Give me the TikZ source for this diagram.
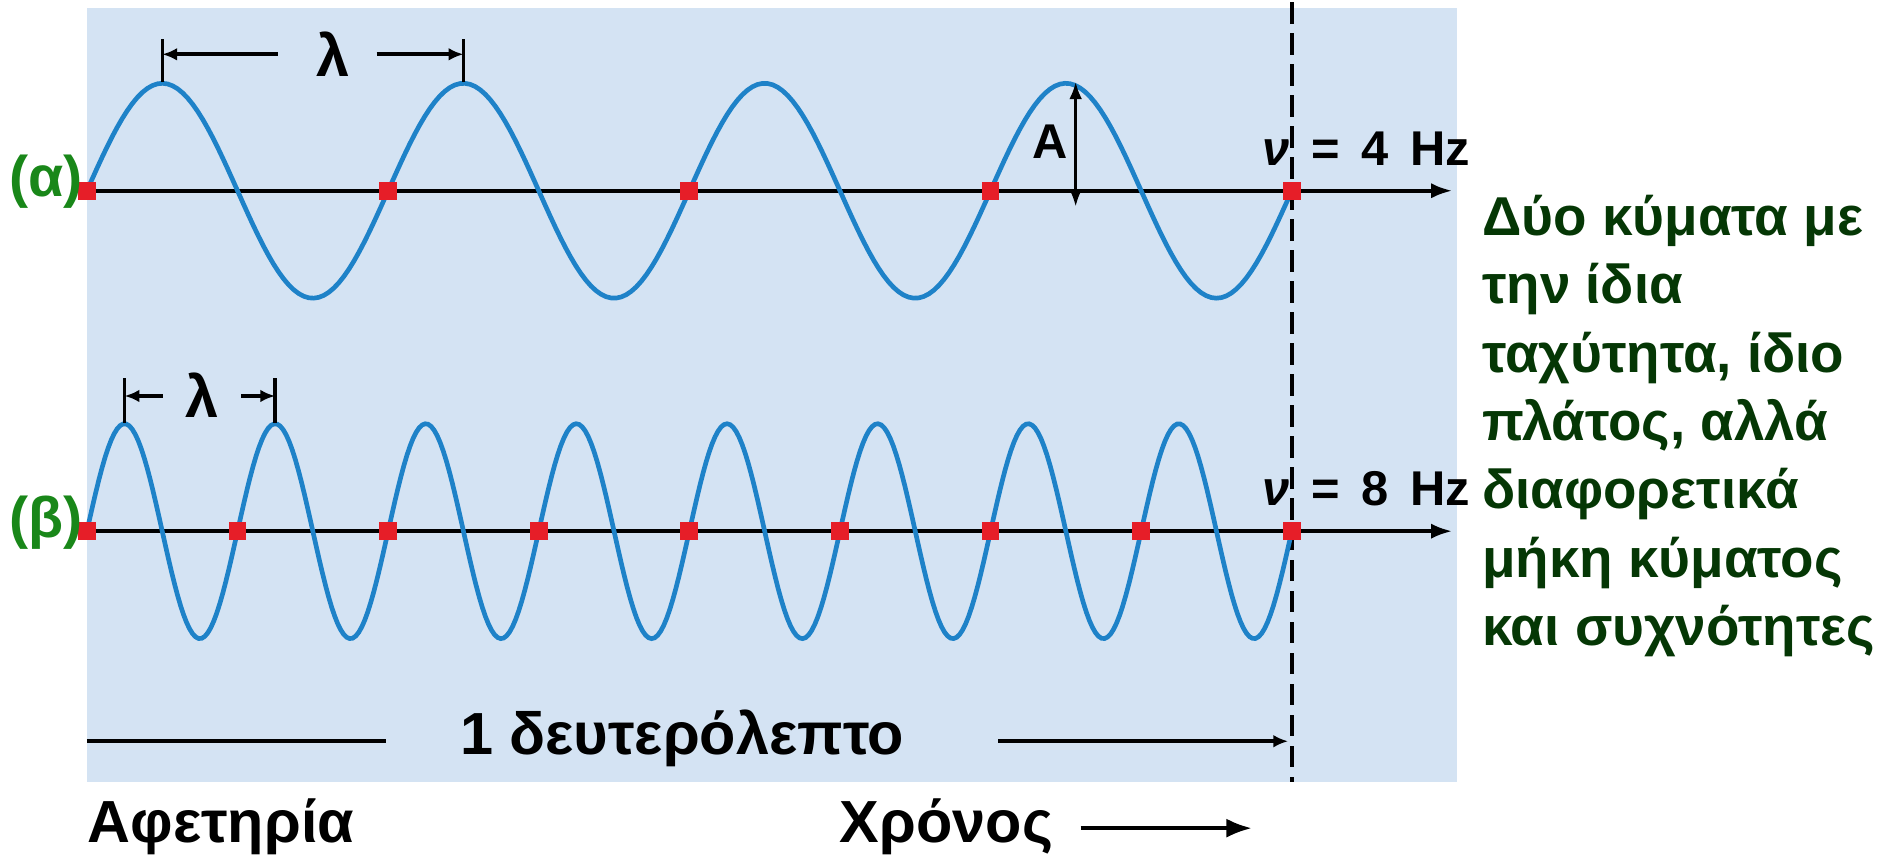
\documentclass[tikz,border=0pt]{standalone}
\usepackage{fontspec}
\setmainfont{Liberation Sans}
\usepackage{xcolor}
\usetikzlibrary{arrows.meta,positioning}

\definecolor{bgblue}{RGB}{212,227,243}
\definecolor{wavecol}{RGB}{30,130,200}
\definecolor{markred}{RGB}{230,30,40}
\definecolor{tagreen}{RGB}{25,135,25}
\definecolor{notegreen}{RGB}{5,55,5}

\begin{document}
\begin{tikzpicture}[
  x=0.01cm, y=-0.01cm,
  wave/.style={draw=wavecol, line width=1.1pt},
  axisline/.style={draw, line width=0.9pt, -{Latex[length=5pt,width=3.6pt]}},
  dimline/.style={draw, line width=0.9pt, -{Latex[length=3.5pt,width=3pt]}},
  tick/.style={draw, line width=0.8pt},
  marker/.style={fill=markred, minimum size=4.2pt, inner sep=0pt},
  lbl/.style={inner sep=0pt, font=\bfseries\fontsize{#1}{#1}\selectfont},
  >=Stealth
]
  \useasboundingbox (0,0) rectangle (1568,710);
  \fill[bgblue] (72,7) rectangle (1207,648);

  % one second
  \coordinate (top) at (1070,2);
  \coordinate (bot) at (1070,648);
  \draw[line width=0.9pt, dash pattern=on 5pt off 2.3pt] (top) -- (bot);

  % wave (a): 4 Hz
  \coordinate (a0) at (72,158);
  \coordinate (aend) at (1203,158);
  \draw[axisline] (a0) -- (aend);
  \draw[wave] plot[domain=72:1070, samples=240]
    (\x, {158-89*sin((\x-72)/249.5*360)});
  \foreach \i in {0,...,4}
    \node[marker] (sqa\i) at ({72+\i*249.5},158) {};

  % wave (b): 8 Hz
  \coordinate (b0) at (72,440);
  \coordinate (bend) at (1203,440);
  \draw[axisline] (b0) -- (bend);
  \draw[wave] plot[domain=72:1070, samples=400]
    (\x, {440-89*sin((\x-72)/124.75*360)});
  \foreach \i in {0,...,8}
    \node[marker] (sqb\i) at ({72+\i*124.75},440) {};

  % wavelength marks
  \coordinate (pa1) at (134.4,68);  \coordinate (ta1) at (134.4,32);
  \coordinate (pa2) at (383.9,68);  \coordinate (ta2) at (383.9,32);
  \draw[tick] (pa1) -- (ta1);
  \draw[tick] (pa2) -- (ta2);
  \node[lbl=14] (lama) at (276,45) {λ};
  \coordinate (la1) at (230,45);  \coordinate (la2) at (312,45);
  \draw[dimline] (la1) -- (134.4,45);
  \draw[dimline] (la2) -- (383.9,45);

  \coordinate (pb1) at (103.2,350);  \coordinate (tb1) at (103.2,313);
  \coordinate (pb2) at (227.9,350);  \coordinate (tb2) at (227.9,313);
  \draw[tick] (pb1) -- (tb1);
  \draw[tick] (pb2) -- (tb2);
  \node[lbl=14] (lamb) at (167,327) {λ};
  \coordinate (lb1) at (135,328);  \coordinate (lb2) at (200,328);
  \draw[dimline] (lb1) -- (103.2,328);
  \draw[dimline] (lb2) -- (227.9,328);

  % amplitude
  \coordinate (amptop) at (891,68);
  \coordinate (ampbot) at (891,171);
  \draw[line width=0.6pt, {Latex[length=4pt,width=3pt]}-{Latex[length=4pt,width=3pt]}]
    (ampbot) -- (amptop);
  \node[lbl=11.5, anchor=base east] (amp) at (885,131) {A};

  % labels
  \node[lbl=13.5, anchor=base east, text=tagreen] (taga) at (69,163) {(α)};
  \node[lbl=13.5, anchor=base east, text=tagreen] (tagb) at (69,445) {(β)};
  \node[lbl=11.5, anchor=base west] (fa) at (1045,137) {\textit{ν}\,\ =\,\ 4\,\ Hz};
  \node[lbl=11.5, anchor=base west] (fb) at (1045,419) {\textit{ν}\,\ =\,\ 8\,\ Hz};

  \node[lbl=14, anchor=base] (sec) at (565,625) {1 δευτερόλεπτο};
  \coordinate (s0) at (72,614);  \coordinate (s1) at (320,614);
  \coordinate (s2) at (827,614); \coordinate (s3) at (1067,614);
  \draw[line width=0.9pt] (s0) -- (s1);
  \draw[dimline] (s2) -- (s3);

  \node[lbl=14, anchor=base west] (start) at (72,698) {Αφετηρία};
  \node[lbl=14, anchor=base west] (time) at (695,698) {Χρόνος};
  \coordinate (t0) at (895,686);  \coordinate (t1) at (1037,686);
  \draw[line width=0.9pt, -{Latex[length=6pt,width=4.5pt]}] (t0) -- (t1);

  \node[anchor=north west, inner sep=0pt, align=left, text=notegreen,
        font=\bfseries\fontsize{12.9}{16.1}\selectfont] (note) at (1227,161)
    {Δύο κύματα με\\την ίδια\\ταχύτητα, ίδιο\\πλάτος, αλλά\\διαφορετικά\\μήκη κύματος\\και συχνότητες};
\end{tikzpicture}
\end{document}
